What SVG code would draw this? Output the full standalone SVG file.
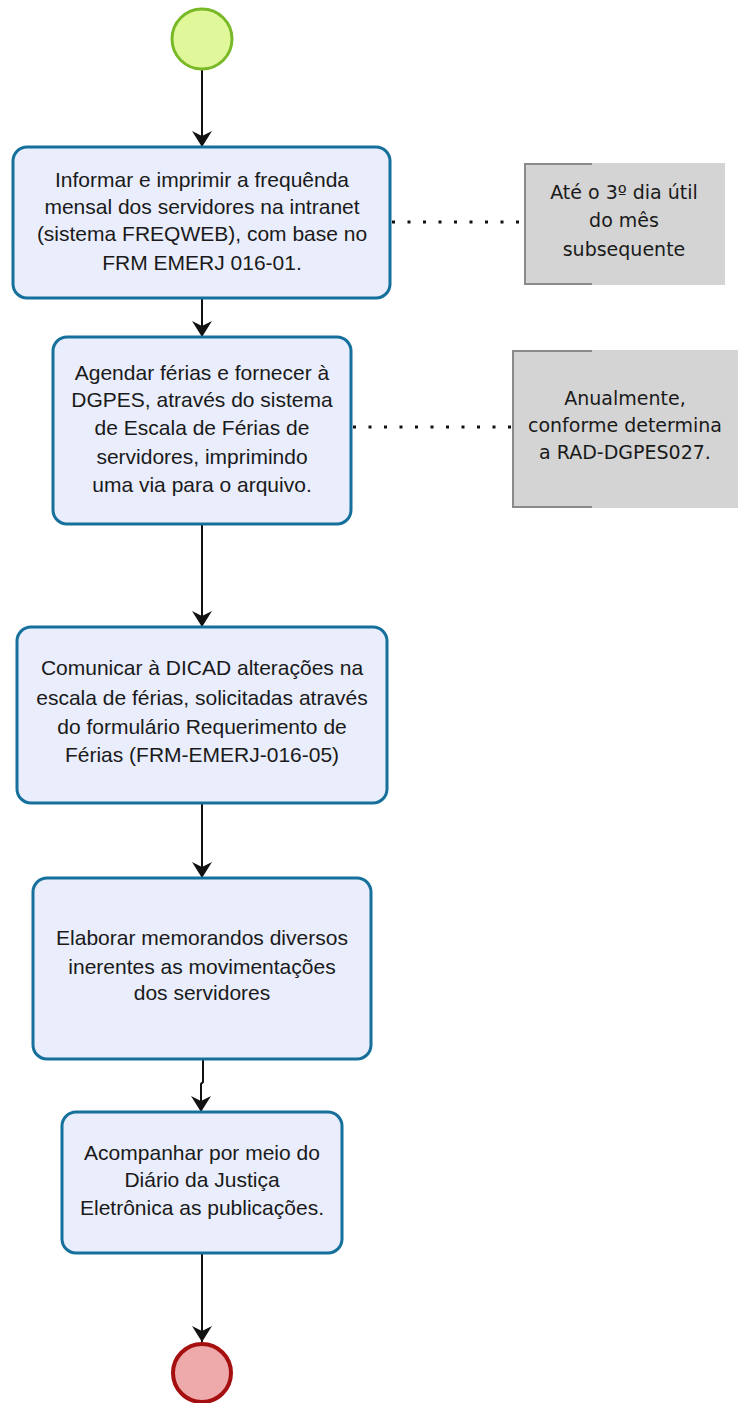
<svg xmlns="http://www.w3.org/2000/svg" width="738" height="1403" viewBox="0 0 738 1403">
<style>
.task rect{fill:#e9edfc;stroke:#16709c;stroke-width:3}
.t{font-family:"Liberation Sans",Arial,sans-serif;font-size:21px;fill:#1a1a1a;text-anchor:middle}
.a{font-family:"DejaVu Sans",sans-serif;font-size:19px;fill:#1a1a1a;text-anchor:middle}
.ann rect{fill:#d4d4d4;stroke:none}
.ann path{fill:none;stroke:#8a8a8a;stroke-width:2}
.flow{fill:none;stroke:#111;stroke-width:2;marker-end:url(#arr)}
.dot{fill:none;stroke:#111;stroke-width:3;stroke-dasharray:3 12.5}
</style>
<defs>
<marker id="arr" viewBox="0 0 16 20" refX="16" refY="10" markerWidth="16" markerHeight="20" markerUnits="userSpaceOnUse" orient="auto">
<path d="M0,0 L16,10 L0,20 L5,10 Z" fill="#111"/>
</marker>
</defs>
<rect width="738" height="1403" fill="#fff"/>
<g id="connectors">
<path class="flow" d="M202,70 V147"/>
<path class="flow" d="M202,298 V337"/>
<path class="flow" d="M202,524 V627"/>
<path class="flow" d="M202,803 V878"/>
<path class="flow" d="M203,1059 V1082 L201,1084 V1112"/>
<path class="flow" d="M202,1253 V1342"/>
<path class="dot" d="M392,222 H524"/>
<path class="dot" d="M353,427 H512"/>
</g>
<g id="start"><circle cx="202" cy="39" r="30" fill="#e0f79a" stroke="#79b928" stroke-width="3"/></g>
<g id="task1" class="task">
<rect x="13" y="147" width="377" height="151" rx="14"/>
<text class="t" x="202" y="187">Informar e imprimir a frequênda</text>
<text class="t" x="202" y="214">mensal dos servidores na intranet</text>
<text class="t" x="202" y="241">(sistema FREQWEB), com base no</text>
<text class="t" x="202" y="270">FRM EMERJ 016-01.</text>
</g>
<g id="note1" class="ann">
<rect x="524" y="163" width="201" height="122"/>
<path d="M592,164 H525 V284 H592"/>
<text class="a" x="624" y="199">Até o 3º dia útil</text>
<text class="a" x="624" y="227">do mês</text>
<text class="a" x="624" y="256">subsequente</text>
</g>
<g id="task2" class="task">
<rect x="53" y="337" width="298" height="187" rx="14"/>
<text class="t" x="202" y="380">Agendar férias e fornecer à</text>
<text class="t" x="202" y="407">DGPES, através do sistema</text>
<text class="t" x="202" y="435">de Escala de Férias de</text>
<text class="t" x="202" y="464">servidores, imprimindo</text>
<text class="t" x="202" y="492">uma via para o arquivo.</text>
</g>
<g id="note2" class="ann">
<rect x="512" y="350" width="226" height="158"/>
<path d="M592,351 H513 V507 H592"/>
<text class="a" x="625" y="405">Anualmente,</text>
<text class="a" x="625" y="432">conforme determina</text>
<text class="a" x="625" y="459">a RAD-DGPES027.</text>
</g>
<g id="task3" class="task">
<rect x="17" y="627" width="370" height="176" rx="14"/>
<text class="t" x="202" y="675">Comunicar à DICAD alterações na</text>
<text class="t" x="202" y="705">escala de férias, solicitadas através</text>
<text class="t" x="202" y="734">do formulário Requerimento de</text>
<text class="t" x="202" y="762">Férias (FRM-EMERJ-016-05)</text>
</g>
<g id="task4" class="task">
<rect x="33" y="878" width="338" height="181" rx="14"/>
<text class="t" x="202" y="945">Elaborar memorandos diversos</text>
<text class="t" x="202" y="974">inerentes as movimentações</text>
<text class="t" x="202" y="1000">dos servidores</text>
</g>
<g id="task5" class="task">
<rect x="62" y="1112" width="280" height="141" rx="14"/>
<text class="t" x="202" y="1160">Acompanhar por meio do</text>
<text class="t" x="202" y="1187">Diário da Justiça</text>
<text class="t" x="202" y="1215">Eletrônica as publicações.</text>
</g>
<g id="end"><circle cx="202" cy="1373" r="29" fill="#eeaaaa" stroke="#a50f0f" stroke-width="4"/></g>
</svg>
